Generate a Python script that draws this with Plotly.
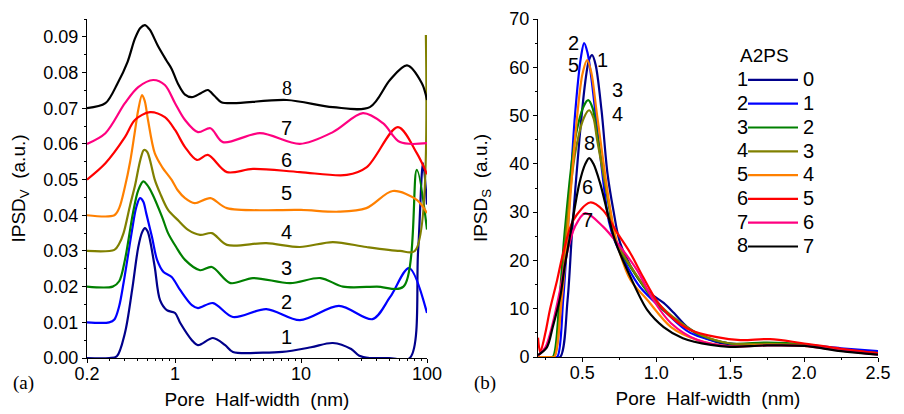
import math
import plotly.graph_objects as go

# ---------------- Panel (a): IPSD_V vs pore half-width (log x), curves offset by 0.01 ----------------
a1_x = [0.2, 0.3, 0.345, 0.4, 0.456, 0.51, 0.547, 0.577, 0.605, 0.632, 0.69, 0.76, 0.86, 1.0, 1.1, 1.36, 1.52, 2.0, 2.5, 2.88, 5.0, 7.1, 12.0, 17.9, 25.0, 29.0, 35.0, 50.0, 73.0, 85.0, 93.0, 100.0]
a1_y = [0.0, 0.0, 0.0005, 0.007, 0.019, 0.031, 0.0352, 0.0364, 0.0355, 0.0331, 0.0255, 0.0162, 0.0134, 0.0126, 0.0098, 0.005, 0.0036, 0.0056, 0.0036, 0.0017, 0.0015, 0.0017, 0.003, 0.0042, 0.0025, 0.0006, 0.0, 0.0, 0.0, 0.03, 0.0546, 0.043]

a2_x = [0.2, 0.3, 0.33, 0.36, 0.39, 0.42, 0.456, 0.49, 0.527, 0.56, 0.59, 0.656, 0.72, 0.81, 0.94, 1.1, 1.36, 1.52, 2.0, 2.88, 5.3, 9.8, 20.0, 37.0, 51.0, 72.0, 100.0]
a2_y = [0.01, 0.01, 0.0108, 0.0145, 0.021, 0.028, 0.0359, 0.042, 0.0448, 0.0438, 0.0406, 0.0339, 0.0275, 0.0241, 0.0227, 0.019, 0.0148, 0.014, 0.0154, 0.0115, 0.0137, 0.0106, 0.0146, 0.0109, 0.0171, 0.0252, 0.0126]

a3_x = [0.2, 0.32, 0.36, 0.4, 0.463, 0.51, 0.56, 0.6, 0.656, 0.79, 0.88, 1.02, 1.2, 1.58, 1.96, 2.75, 4.15, 8.2, 14.3, 21.5, 40.0, 65.0, 83.0, 100.0]
a3_y = [0.02, 0.02, 0.0215, 0.0275, 0.0406, 0.047, 0.0495, 0.0485, 0.0462, 0.0395, 0.035, 0.0311, 0.0275, 0.0246, 0.0255, 0.021, 0.0224, 0.021, 0.0224, 0.02, 0.02, 0.02, 0.0527, 0.036]

a4_x = [0.2, 0.33, 0.36, 0.39, 0.44, 0.48, 0.53, 0.566, 0.6, 0.632, 0.69, 0.76, 0.88, 1.05, 1.27, 1.58, 1.96, 2.58, 5.3, 9.8, 17.9, 33.0, 61.0, 80.0, 98.0]
a4_y = [0.03, 0.0303, 0.032, 0.035, 0.0429, 0.0482, 0.0555, 0.0583, 0.0578, 0.0555, 0.05, 0.0462, 0.0415, 0.0387, 0.0359, 0.0345, 0.035, 0.0317, 0.0322, 0.0311, 0.0325, 0.0311, 0.03, 0.03, 0.0905]

a5_x = [0.2, 0.33, 0.36, 0.4, 0.44, 0.48, 0.51, 0.547, 0.575, 0.61, 0.69, 0.79, 0.94, 1.05, 1.2, 1.43, 1.91, 2.58, 10.0, 20.0, 33.0, 53.5, 83.0, 100.0]
a5_y = [0.04, 0.04, 0.042, 0.048, 0.055, 0.0635, 0.0695, 0.0737, 0.072, 0.0667, 0.0574, 0.0535, 0.0499, 0.047, 0.0448, 0.0434, 0.0448, 0.042, 0.0415, 0.041, 0.042, 0.0468, 0.0443, 0.0406]

a6_x = [0.2, 0.28, 0.4, 0.48, 0.632, 0.83, 1.0, 1.2, 1.49, 1.82, 2.58, 4.15, 9.8, 23.1, 33.3, 58.7, 83.0, 100.0]
a6_y = [0.05, 0.0546, 0.0619, 0.0667, 0.0689, 0.0675, 0.0639, 0.0591, 0.0555, 0.0569, 0.0521, 0.053, 0.0521, 0.0513, 0.0535, 0.0647, 0.0574, 0.0515]

a7_x = [0.2, 0.28, 0.4, 0.51, 0.67, 0.83, 1.0, 1.2, 1.52, 1.91, 2.4, 4.72, 9.8, 17.9, 31.0, 44.7, 61.0, 100.0]
a7_y = [0.06, 0.063, 0.0714, 0.0759, 0.0779, 0.0765, 0.0714, 0.0667, 0.0633, 0.0644, 0.0605, 0.063, 0.06, 0.0633, 0.0686, 0.0658, 0.0605, 0.0602]

a8_x = [0.2, 0.28, 0.35, 0.42, 0.48, 0.53, 0.577, 0.63, 0.73, 0.85, 0.94, 1.05, 1.2, 1.36, 1.6, 1.82, 2.05, 2.33, 2.88, 7.7, 17.9, 35.2, 50.8, 69.3, 91.0, 100.0]
a8_y = [0.07, 0.0714, 0.077, 0.083, 0.0895, 0.0925, 0.0933, 0.092, 0.0875, 0.0835, 0.081, 0.077, 0.0738, 0.0731, 0.0742, 0.0751, 0.0735, 0.0717, 0.0714, 0.0723, 0.0703, 0.0703, 0.0779, 0.082, 0.077, 0.0723]

# ---------------- Panel (b): IPSD_S vs pore half-width (linear x) ----------------
b1_x = [0.2, 0.3, 0.35, 0.4, 0.43, 0.48, 0.52, 0.545, 0.566, 0.59, 0.63, 0.67, 0.71, 0.756, 0.87, 0.96, 1.05, 1.12, 1.21, 1.32, 1.5, 1.75, 2.0, 2.25, 2.5]
b1_y = [0.0, 0.0, 0.0, 11.8, 25.7, 45.0, 57.0, 61.5, 62.5, 60.5, 51.0, 38.0, 30.4, 23.6, 16.6, 13.2, 11.2, 9.1, 6.2, 4.1, 2.5, 2.7, 2.5, 1.6, 0.9]

b2_x = [0.2, 0.3, 0.33, 0.37, 0.4, 0.45, 0.49, 0.512, 0.535, 0.56, 0.62, 0.68, 0.72, 0.8, 0.89, 1.05, 1.23, 1.5, 1.75, 2.0, 2.25, 2.5]
b2_y = [0.0, 0.0, 0.0, 11.8, 25.7, 50.0, 62.0, 65.0, 63.0, 58.0, 42.0, 28.0, 24.0, 19.0, 14.5, 9.7, 5.0, 2.8, 2.7, 2.5, 1.8, 1.2]

b3_x = [0.2, 0.27, 0.3, 0.345, 0.38, 0.45, 0.51, 0.54, 0.57, 0.6, 0.685, 0.72, 0.87, 1.0, 1.16, 1.3, 1.5, 1.75, 2.0, 2.25, 2.5]
b3_y = [0.0, 0.0, 0.0, 11.8, 25.7, 45.0, 52.0, 53.2, 51.5, 46.0, 30.4, 24.2, 16.6, 11.2, 7.0, 4.5, 2.8, 3.0, 2.6, 1.5, 0.8]

b4_x = [0.2, 0.28, 0.31, 0.355, 0.39, 0.45, 0.51, 0.546, 0.575, 0.6, 0.69, 0.73, 0.87, 1.0, 1.16, 1.3, 1.5, 1.75, 2.0, 2.25, 2.5]
b4_y = [0.0, 0.0, 0.0, 11.8, 25.7, 42.0, 49.5, 51.1, 49.5, 45.0, 30.0, 24.0, 16.8, 11.5, 7.2, 4.6, 2.8, 2.7, 2.5, 1.5, 0.8]

b5_x = [0.2, 0.28, 0.31, 0.36, 0.4, 0.45, 0.5, 0.533, 0.56, 0.6, 0.69, 0.74, 0.825, 0.94, 1.1, 1.28, 1.5, 1.75, 2.0, 2.25, 2.5]
b5_y = [0.0, 0.0, 0.0, 11.8, 25.7, 45.0, 58.5, 61.5, 59.0, 50.0, 30.4, 23.0, 16.0, 11.8, 6.2, 3.5, 2.2, 2.5, 2.3, 1.4, 0.7]

b6_x = [0.2, 0.215, 0.25, 0.28, 0.33, 0.37, 0.44, 0.553, 0.64, 0.736, 0.825, 0.91, 1.0, 1.1, 1.23, 1.41, 1.57, 1.77, 1.98, 2.25, 2.5]
b6_y = [4.0, 1.0, 5.0, 9.7, 16.0, 21.5, 28.4, 32.0, 30.4, 25.7, 21.5, 16.6, 11.8, 8.3, 5.6, 4.1, 3.5, 3.7, 2.9, 1.7, 0.8]

b7_x = [0.2, 0.25, 0.3, 0.35, 0.4, 0.45, 0.52, 0.64, 0.736, 0.87, 0.98, 1.1, 1.28, 1.5, 1.75, 2.0, 2.25, 2.5]
b7_y = [0.3, 2.0, 7.0, 14.0, 22.0, 27.0, 29.8, 27.0, 23.6, 18.0, 11.8, 7.0, 3.5, 2.2, 2.4, 2.3, 1.3, 0.5]

b8_x = [0.2, 0.26, 0.3, 0.35, 0.38, 0.42, 0.48, 0.52, 0.546, 0.575, 0.62, 0.72, 0.825, 0.94, 1.05, 1.18, 1.37, 1.5, 1.75, 2.0, 2.25, 2.5]
b8_y = [0.4, 2.0, 6.2, 12.4, 18.6, 25.7, 36.0, 40.0, 41.2, 40.0, 36.0, 24.2, 16.6, 9.7, 6.2, 3.9, 2.5, 2.1, 2.4, 2.3, 1.2, 0.5]

curve_ids = ["1", "2", "3", "4", "5", "6", "7", "8"]
a2ps_vals = ["0", "1", "2", "3", "4", "5", "6", "7"]
colors = ["#00008B", "#0000FF", "#008000", "#808000", "#FF8000", "#FF0000", "#FF0080", "#000000"]

a_series = [(a1_x, a1_y), (a2_x, a2_y), (a3_x, a3_y), (a4_x, a4_y),
            (a5_x, a5_y), (a6_x, a6_y), (a7_x, a7_y), (a8_x, a8_y)]
b_series = [(b1_x, b1_y), (b2_x, b2_y), (b3_x, b3_y), (b4_x, b4_y),
            (b5_x, b5_y), (b6_x, b6_y), (b7_x, b7_y), (b8_x, b8_y)]

# curve label positions (data coords)
a_label_x = [7.7] * 8
a_label_y = [0.0059, 0.0157, 0.0252, 0.0353, 0.0462, 0.0555, 0.0644, 0.0756]
b_label_x = [0.634, 0.437, 0.736, 0.736, 0.437, 0.532, 0.532, 0.546]
b_label_y = [61.5, 65.0, 55.3, 50.3, 60.5, 35.2, 28.4, 44.3]

# The page body has an 8px margin, so the figure is 8px smaller than the window
W, H = 896, 406
OFF = 8


def px(xs):  # window pixel -> paper x
    return (xs - OFF) / W


def py(ys):  # window pixel -> paper y
    return 1 - (ys - OFF) / H


fig = go.Figure()

for i, (xs, ys) in enumerate(a_series):
    fig.add_trace(go.Scatter(x=xs, y=ys, mode="lines", xaxis="x", yaxis="y",
                             line=dict(color=colors[i], width=2.2, shape="spline", smoothing=0.9),
                             showlegend=False, hoverinfo="skip"))

for i, (xs, ys) in enumerate(b_series):
    fig.add_trace(go.Scatter(x=xs, y=ys, mode="lines", xaxis="x2", yaxis="y2",
                             name='<span style="font-size:20px">' + a2ps_vals[i] + "</span>",
                             line=dict(color=colors[i], width=2.2, shape="spline", smoothing=0.9),
                             showlegend=True, hoverinfo="skip"))

SANS = "Liberation Sans, Arial, sans-serif"
SERIF = "Liberation Serif, Times New Roman, serif"

ann = []
for i in range(8):
    ann.append(dict(x=math.log10(a_label_x[i]), y=a_label_y[i], xref="x", yref="y",
                    text=curve_ids[i], showarrow=False,
                    font=dict(family=SERIF if curve_ids[i] == "8" else SANS, size=20, color="black")))
    ann.append(dict(x=b_label_x[i], y=b_label_y[i], xref="x2", yref="y2",
                    text=curve_ids[i], showarrow=False,
                    font=dict(family=SANS, size=20, color="black")))

# legend left-side digits and title
leg_rows_px = [79, 103, 127, 150, 174, 198, 222, 245]
for i, ypix in enumerate(leg_rows_px):
    ann.append(dict(x=px(750), y=py(ypix), xref="paper", yref="paper", xanchor="right",
                    yanchor="middle", text=curve_ids[i], showarrow=False,
                    font=dict(family=SANS, size=20, color="black")))
ann.append(dict(x=px(738), y=py(55), xref="paper", yref="paper", xanchor="left",
                yanchor="middle", text="A2PS", showarrow=False,
                font=dict(family=SANS, size=19, color="black")))
ann.append(dict(x=px(11), y=py(383), xref="paper", yref="paper", xanchor="left",
                yanchor="middle", text="(a)", showarrow=False,
                font=dict(family=SERIF, size=19, color="black")))
ann.append(dict(x=px(472), y=py(383), xref="paper", yref="paper", xanchor="left",
                yanchor="middle", text="(b)", showarrow=False,
                font=dict(family=SERIF, size=19, color="black")))

axis_common = dict(showline=True, linecolor="black", linewidth=1, ticks="outside",
                   ticklen=4, tickcolor="black", showgrid=False, zeroline=False,
                   tickfont=dict(family=SANS, size=18, color="black"), automargin=False)

minor_log = [0.3, 0.4, 0.5, 0.6, 0.7, 0.8, 0.9, 2, 3, 4, 5, 6, 7, 8, 9,
             20, 30, 40, 50, 60, 70, 80, 90]

fig.update_layout(
    width=W, height=H,
    margin=dict(l=0, r=0, t=0, b=0),
    paper_bgcolor="white", plot_bgcolor="white",
    font=dict(family=SANS, color="black"),
    xaxis=dict(domain=[px(87), px(427)], type="log", range=[-0.699, 2.0],
               tickvals=[0.2, 1, 10, 100], ticktext=["0.2", "1", "10", "100"],
               ticklabelstandoff=-5,
               minor=dict(tickvals=minor_log, ticks="outside", ticklen=2, tickcolor="black"),
               title=dict(text="Pore  Half-width  (nm)", font=dict(family=SANS, size=19), standoff=10),
               anchor="y", **axis_common),
    yaxis=dict(domain=[py(358), py(19)], range=[0, 0.095], dtick=0.01, tick0=0,
               tickformat=".2f",
               minor=dict(dtick=0.005, ticks="outside", ticklen=2, tickcolor="black"),
               title=dict(text="IPSD<sub>V</sub>  (a.u.)", font=dict(family=SANS, size=19), standoff=18),
               anchor="x", **axis_common),
    xaxis2=dict(domain=[px(538), px(878)], range=[0.2, 2.5], dtick=0.5, tick0=0.5,
                tickformat=".1f", ticklabelstandoff=-5,
                minor=dict(dtick=0.25, tick0=0.25, ticks="outside", ticklen=2, tickcolor="black"),
                title=dict(text="Pore  Half-width  (nm)", font=dict(family=SANS, size=19), standoff=10),
                anchor="y2", **axis_common),
    yaxis2=dict(domain=[py(357), py(19)], range=[0, 70], dtick=10, tick0=0,
                minor=dict(dtick=5, ticks="outside", ticklen=2, tickcolor="black"),
                title=dict(text="IPSD<sub>S</sub>  (a.u.)", font=dict(family=SANS, size=19), standoff=16),
                anchor="x2", **axis_common),
    legend=dict(x=px(743), y=py(63), xanchor="left", yanchor="top",
                bgcolor="rgba(0,0,0,0)", borderwidth=0, itemwidth=50,
                font=dict(family=SANS, size=16, color="black"),
                tracegroupgap=0),
    annotations=ann,
)

fig.write_html("out.html")
